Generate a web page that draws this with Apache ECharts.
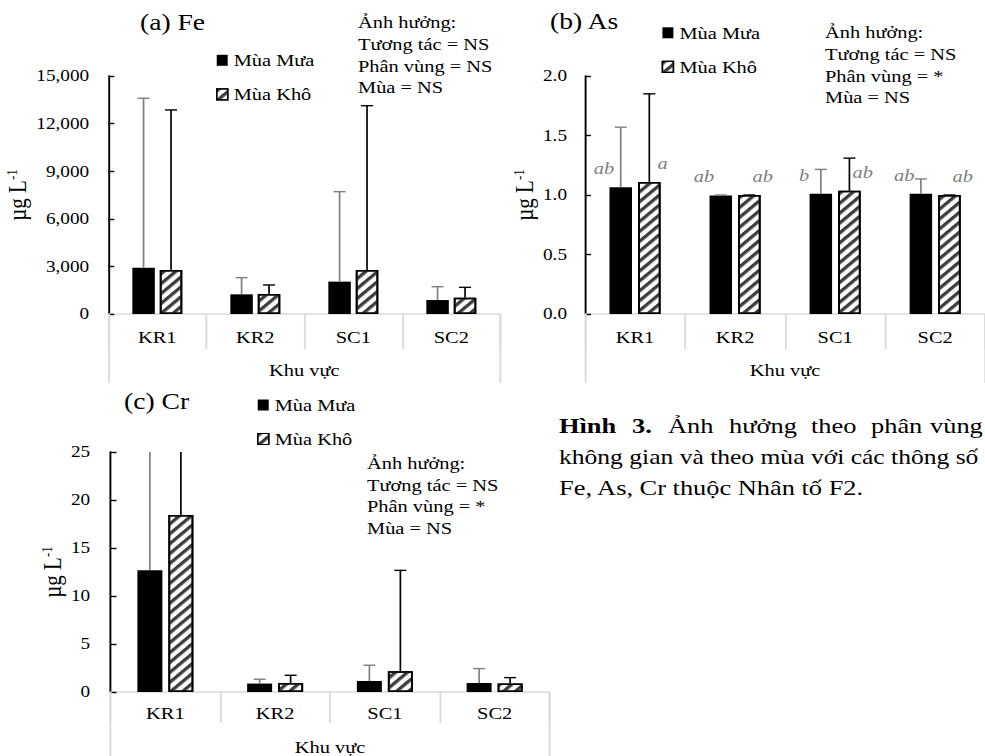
<!DOCTYPE html>
<html><head><meta charset="utf-8">
<script src="https://cdn.jsdelivr.net/npm/echarts@6/dist/echarts.min.js"></script>
<style>
html,body{margin:0;padding:0;background:#fff;overflow:hidden;}
#wrap{width:985px;height:756px;overflow:hidden;position:relative;background:#fff;}
#chart{width:820.83px;height:756px;transform:scaleX(1.2);transform-origin:0 0;}
</style></head><body><div id="wrap"><div id="chart"></div></div>
<script>
// ---------- data ----------
const categories = ['KR1', 'KR2', 'SC1', 'SC2'];
const secondLevel = ['Khu vực'];
const seasons = ['Mùa Mưa', 'Mùa Khô'];

const feRain    = [2920, 1240, 2040, 880];
const feRainErr = [13600, 2290, 7710, 1720];
const feDry     = [2770, 1260, 2770, 1030];
const feDryErr  = [12860, 1830, 13130, 1680];

const asRain    = [1.065, 0.995, 1.01, 1.01];
const asRainErr = [1.57, 1.0, 1.215, 1.135];
const asDry     = [1.11, 1.0, 1.035, 1.0];
const asDryErr  = [1.85, 1.0, 1.31, 1.0];
const asRainLetters = ['ab', 'ab', 'b', 'ab'];
const asDryLetters  = ['a', 'ab', 'ab', 'ab'];

const crRain    = [12.67, 0.88, 1.15, 0.94];
const crRainErr = [30, 1.33, 2.79, 2.44];
const crDry     = [18.45, 0.94, 2.16, 0.88];
const crDryErr  = [30, 1.74, 12.67, 1.5];

// axis ticks: [min, max, interval]
const feTicks = [0, 15000, 3000];
const asTicks = [0, 2, 0.5];
const crTicks = [0, 25, 5];

const titles = ['(a) Fe', '(b) As', '(c) Cr'];
const notesA = ['Ảnh hưởng:', 'Tương tác = NS', 'Phân vùng = NS', 'Mùa = NS'];
const notesB = ['Ảnh hưởng:', 'Tương tác = NS', 'Phân vùng = *', 'Mùa = NS'];
const notesC = ['Ảnh hưởng:', 'Tương tác = NS', 'Phân vùng = *', 'Mùa = NS'];
const captionBold = ['Hình', '3.'];
const captionLine1 = ['Ảnh', 'hưởng', 'theo', 'phân', 'vùng'];
const captionLine2 = 'không gian và theo mùa với các thông số';
const captionLine3 = 'Fe, As, Cr thuộc Nhân tố F2.';

// ---------- styling / layout ----------
const S = 1.2;                 // horizontal stretch of the reference
const X = v => v / S;          // reference px -> unscaled px
const FONT = "'Liberation Serif', 'Times New Roman', serif";
const GRAY = '#d9d9d9';
const hatch = {
  symbol: 'rect', symbolSize: 1, dashArrayX: [[1, 0]], dashArrayY: [2.6, 3.4],
  rotation: -Math.PI / 4, color: '#3c3c3c', backgroundColor: '#ffffff'
};

const panels = [
  {grid: {left: X(108.3), top: 76, width: X(392), height: 238}, ticks: feTicks,
   rain: feRain, rainErr: feRainErr, dry: feDry, dryErr: feDryErr,
   barW: X(22.5), gap: 0.22, labelMargin: 16, nameGap: 58, catMargin: 15, lvl2Margin: 48,
   sepLen: 35, lvl2Len: 69, fmt: v => v.toLocaleString('en-US')},
  {grid: {left: X(585), top: 76, width: X(404), height: 238}, ticks: asTicks,
   rain: asRain, rainErr: asRainErr, dry: asDry, dryErr: asDryErr,
   barW: X(22.5), gap: 0.27, labelMargin: 15, nameGap: 40, catMargin: 15, lvl2Margin: 48,
   sepLen: 35, lvl2Len: 69, fmt: v => v.toFixed(1)},
  {grid: {left: X(110.5), top: 452, width: X(439), height: 240}, ticks: crTicks,
   rain: crRain, rainErr: crRainErr, dry: crDry, dryErr: crDryErr,
   barW: X(25), gap: 0.24, labelMargin: 17, nameGap: 35, catMargin: 12.5, lvl2Margin: 47,
   sepLen: 31, lvl2Len: 70, fmt: v => String(v)}
];

const grids = [], xAxes = [], yAxes = [], series = [];

function errSeries(pi, vals, errs, color, side, p) {
  const off = side * p.barW * (1 + p.gap) / 2;
  const yMax = p.ticks[1];
  return {
    type: 'custom', xAxisIndex: pi * 2, yAxisIndex: pi, z: 5, silent: true,
    data: vals.map((v, i) => [i, v, errs[i]]),
    encode: {x: 0, y: 1},
    renderItem(params, api) {
      const i = api.value(0);
      const top = api.value(2);
      const b = api.coord([i, api.value(1)]);
      const t = api.coord([i, Math.min(top, yMax)]);
      const x = b[0] + off;
      const ch = [{type: 'line', shape: {x1: x, y1: b[1], x2: x, y2: t[1]},
                   style: {stroke: color, lineWidth: 1.4}}];
      if (top <= yMax) ch.push({type: 'line', shape: {x1: x - 5, y1: t[1], x2: x + 5, y2: t[1]},
                   style: {stroke: color, lineWidth: 1.4}});
      return {type: 'group', children: ch};
    }
  };
}

panels.forEach((p, pi) => {
  grids.push(p.grid);
  xAxes.push({
    gridIndex: pi, type: 'category', data: categories, position: 'bottom',
    axisLine: {show: true, onZero: false, lineStyle: {color: GRAY, width: 1.5}},
    axisTick: {show: true, interval: 0, length: p.sepLen, lineStyle: {color: GRAY, width: 1.5}},
    axisLabel: {interval: 0, margin: p.catMargin, fontSize: 17, color: '#000', fontFamily: FONT},
    splitLine: {show: false}
  });
  xAxes.push({
    gridIndex: pi, type: 'category', data: secondLevel, position: 'bottom',
    axisLine: {show: false},
    axisTick: {show: true, length: p.lvl2Len, lineStyle: {color: GRAY, width: 1.5}},
    axisLabel: {margin: p.lvl2Margin, fontSize: 17, color: '#000', fontFamily: FONT},
    splitLine: {show: false}
  });
  yAxes.push({
    gridIndex: pi, type: 'value', min: p.ticks[0], max: p.ticks[1], interval: p.ticks[2],
    axisLine: {show: true, lineStyle: {color: '#000', width: 1.6}},
    axisTick: {show: true, inside: true, length: 5, lineStyle: {color: '#000', width: 1.4}},
    splitLine: {show: false},
    axisLabel: {margin: p.labelMargin, fontSize: 16, color: '#000', fontFamily: FONT, formatter: p.fmt},
    name: '{a|µg L}{b|-1}', nameLocation: 'middle', nameRotate: 90, nameGap: p.nameGap,
    nameTextStyle: {color: '#000', fontFamily: FONT, fontSize: 21, lineHeight: 22,
      rich: {a: {fontSize: 21, lineHeight: 22, fontFamily: FONT, color: '#000'},
             b: {fontSize: 13, lineHeight: 22, fontFamily: FONT, color: '#000', verticalAlign: 'top', padding: [0, 0, 10, 0]}}}
  });
  const rainLabel = pi === 1 ? {
    show: true, position: 'top', distance: 0, align: 'center', verticalAlign: 'middle',
    offset: [-(p.barW / 2) - 4.6, -19], fontStyle: 'italic', fontSize: 17, fontFamily: FONT, color: '#7f7f7f',
    formatter: q => asRainLetters[q.dataIndex]
  } : {show: false};
  const dryLabel = pi === 1 ? {
    show: true, position: 'top', distance: 0, align: 'center', verticalAlign: 'middle',
    offset: [(p.barW / 2) + 1.7, -19], fontStyle: 'italic', fontSize: 17, fontFamily: FONT, color: '#7f7f7f',
    formatter: q => asDryLetters[q.dataIndex]
  } : {show: false};
  series.push({
    type: 'bar', name: seasons[0], xAxisIndex: pi * 2, yAxisIndex: pi, data: p.rain,
    barWidth: p.barW, barGap: (p.gap * 100) + '%',
    itemStyle: {color: '#000', borderColor: '#000', borderWidth: 0}, label: rainLabel
  });
  series.push({
    type: 'bar', name: seasons[1], xAxisIndex: pi * 2, yAxisIndex: pi, data: p.dry,
    barWidth: p.barW, barGap: (p.gap * 100) + '%',
    itemStyle: {color: '#fff', borderColor: '#000', borderWidth: 1.5, decal: hatch}, label: dryLabel
  });
  series.push(errSeries(pi, p.rain, p.rainErr, '#7f7f7f', -1, p));
  series.push(errSeries(pi, p.dry, p.dryErr, '#000', 1, p));
});

function legendAt(x, yCenter) {
  return {
    left: X(x), top: yCenter - 8.5, orient: 'vertical', itemGap: 17, padding: 0,
    itemWidth: X(11), itemHeight: 11, selectedMode: false,
    textStyle: {fontSize: 17, lineHeight: 17, color: '#000', fontFamily: FONT},
    data: [
      {name: seasons[0], icon: 'rect', itemStyle: {color: '#000', borderWidth: 0}},
      {name: seasons[1], icon: 'rect', itemStyle: {color: '#fff', borderColor: '#000', borderWidth: 1.2, decal: hatch}}
    ]
  };
}

function txt(x, y, text, size, extra) {
  return {type: 'text', x: X(x), y: y, silent: true,
    style: Object.assign({text: text, fontSize: size, fontFamily: FONT, fill: '#000',
      align: 'left', verticalAlign: 'middle'}, extra || {})};
}

const graphics = [];
graphics.push(txt(140, 22, titles[0], 23));
graphics.push(txt(550, 20.5, titles[1], 23));
graphics.push(txt(124, 400.5, titles[2], 23));
notesA.forEach((t, i) => graphics.push(txt(358, 22.5 + i * 21.7, t, 17)));
notesB.forEach((t, i) => graphics.push(txt(825, 32.5 + i * 21.7, t, 17)));
notesC.forEach((t, i) => graphics.push(txt(367, 463 + i * 21.7, t, 17)));
const line1X = [668, 729, 811, 871, 930];
graphics.push(txt(559, 425.5, captionBold[0], 22, {fontWeight: 'bold'}));
graphics.push(txt(632, 425.5, captionBold[1], 22, {fontWeight: 'bold'}));
captionLine1.forEach((w, i) => graphics.push(txt(line1X[i], 425.5, w, 22)));
graphics.push(txt(559, 456.5, captionLine2, 21.3));
graphics.push(txt(559, 487.5, captionLine3, 22));

const chart = echarts.init(document.getElementById('chart'), null, {renderer: 'svg'});
chart.setOption({
  animation: false,
  backgroundColor: '#fff',
  textStyle: {fontFamily: FONT},
  grid: grids,
  xAxis: xAxes,
  yAxis: yAxes,
  legend: [legendAt(216, 60.3), legendAt(661.7, 32.8), legendAt(257, 405)],
  series: series,
  graphic: graphics
});
</script></body></html>
